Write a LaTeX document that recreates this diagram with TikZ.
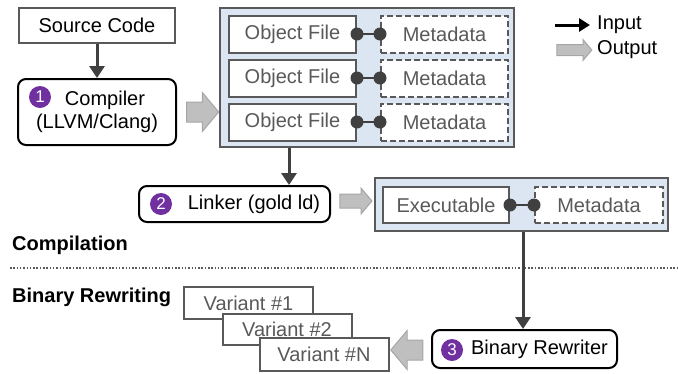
\documentclass[tikz,border=0pt]{standalone}
\usepackage{fontspec}
\setmainfont{Liberation Sans}
\usetikzlibrary{arrows.meta,shapes.arrows}

\definecolor{dkgray}{HTML}{404040}
\definecolor{midgray}{HTML}{595959}
\definecolor{lightblue}{HTML}{DCE6F2}
\definecolor{badgepurple}{HTML}{7030A0}
\definecolor{outfill}{HTML}{BFBFBF}
\definecolor{outdraw}{HTML}{A6A6A6}

\newcommand{\txt}{\fontsize{20}{23.5}\selectfont}

\tikzset{
  plain/.style={draw=midgray, line width=2pt, fill=white, inner sep=0pt, font=\txt},
  filebox/.style={plain, text=midgray, minimum width=127pt, minimum height=37pt},
  metabox/.style={filebox, dashed, dash pattern=on 6pt off 3pt},
  group/.style={draw=midgray, line width=2pt, fill=lightblue, inner sep=0pt},
  tool/.style={draw=black, line width=2pt, rounded corners=8pt, fill=white, inner sep=0pt, font=\txt, align=center},
  badge/.style={circle, fill=badgepurple, text=white, inner sep=0pt, minimum size=22pt, font=\fontsize{17}{17}\selectfont},
  input/.style={draw=dkgray, line width=3pt, -{Triangle[length=12pt,width=15pt]}},
  link/.style={draw=dkgray, line width=1.8pt},
  dot/.style={fill=dkgray},
  output/.style={single arrow, draw=outdraw, fill=outfill, line width=1pt, inner xsep=0pt, inner ysep=9.5pt,
    single arrow head extend=9.5pt, single arrow tip angle=100, minimum height=32pt},
  variant/.style={plain, text=midgray, minimum width=129pt, minimum height=32pt},
  section/.style={anchor=west, inner sep=0pt, font=\txt\bfseries}
}

\begin{document}
\begin{tikzpicture}[x=1pt, y=-1pt]
\useasboundingbox (0,0) rectangle (678,373);

% compilation
\node[plain, minimum width=156pt, minimum height=35pt] (src) at (97,25.5) {Source Code};
\node[tool, minimum width=158pt, minimum height=66pt] (comp) at (97,112) {\hspace*{16pt}Compiler\\(LLVM/Clang)};
\node[badge] (b1) at (40,97) {1};
\draw[input] (src) -- (comp);

\node[output] (out1) at (198.5,112) {};

\node[group, minimum width=294pt, minimum height=139pt] (objs) at (367,77.5) {};
\foreach \i/\y in {1/34, 2/78, 3/122}
{
	\node[filebox] (obj\i) at (292.5,\y) {Object File};
	\node[metabox] (meta\i) at (444.5,\y) {Metadata};
	\draw[link] (obj\i) -- (meta\i);
	\fill[dot] (obj\i.east) circle (6.5pt) (meta\i.west) circle (6.5pt);
}

\node[tool, minimum width=191pt, minimum height=36pt] (lnk) at (234.5,204) {\hspace*{39pt}Linker (gold ld)};
\node[badge] (b2) at (161,204) {2};
\draw[input] ([xshift=-78pt]objs.south) -- ([xshift=-78pt]objs.south |- lnk.north);

\node[output, inner ysep=6.5pt, single arrow head extend=6pt] (out2) at (353,201) {};

\node[group, minimum width=293pt, minimum height=53pt] (exe) at (521.5,204.5) {};
\node[filebox, minimum width=126pt, minimum height=36pt] (bin) at (446,205) {Executable};
\node[metabox, minimum width=128pt, minimum height=36pt] (binmeta) at (599,205) {Metadata};
\draw[link] (bin) -- (binmeta);
\fill[dot] (bin.east) circle (6.5pt) (binmeta.west) circle (6.5pt);

% separator
\node[section] (lcomp) at (12,245) {Compilation};
\coordinate (sepl) at (10,268);
\coordinate (sepr) at (678,268);
\draw[midgray, line width=1.5pt, dash pattern=on 1.5pt off 1.8pt] (sepl) -- (sepr);
\node[section] (lbin) at (12,297) {Binary Rewriting};

% binary rewriting
\node[tool, minimum width=185pt, minimum height=38pt] (rw) at (524.5,349) {\hspace*{30pt}Binary Rewriter};
\node[badge] (b3) at (452,350) {3};
\draw[input] (exe.south -| 523,0) -- (rw.north -| 523,0);

\node[output, shape border rotate=180] (out3) at (411,350) {};

\node[variant] (var1) at (248.5,303) {Variant \#1};
\node[variant, minimum height=31pt] (var2) at (287,329.5) {Variant \#2};
\node[variant, minimum height=33pt] (varn) at (324,354.5) {Variant \#N};

% legend
\coordinate (inl) at (555,25);
\coordinate (inr) at (590,25);
\draw[black, line width=3pt, -{Triangle[length=11pt,width=13pt]}] (inl) -- (inr);
\node[anchor=west, inner sep=0pt, font=\txt] (lin) at (597,25) {Input};
\node[output, minimum height=35pt, inner ysep=5pt, single arrow head extend=5pt] (outl) at (572,50) {};
\node[anchor=west, inner sep=0pt, font=\txt] (lout) at (597,50) {Output};

\end{tikzpicture}
\end{document}
